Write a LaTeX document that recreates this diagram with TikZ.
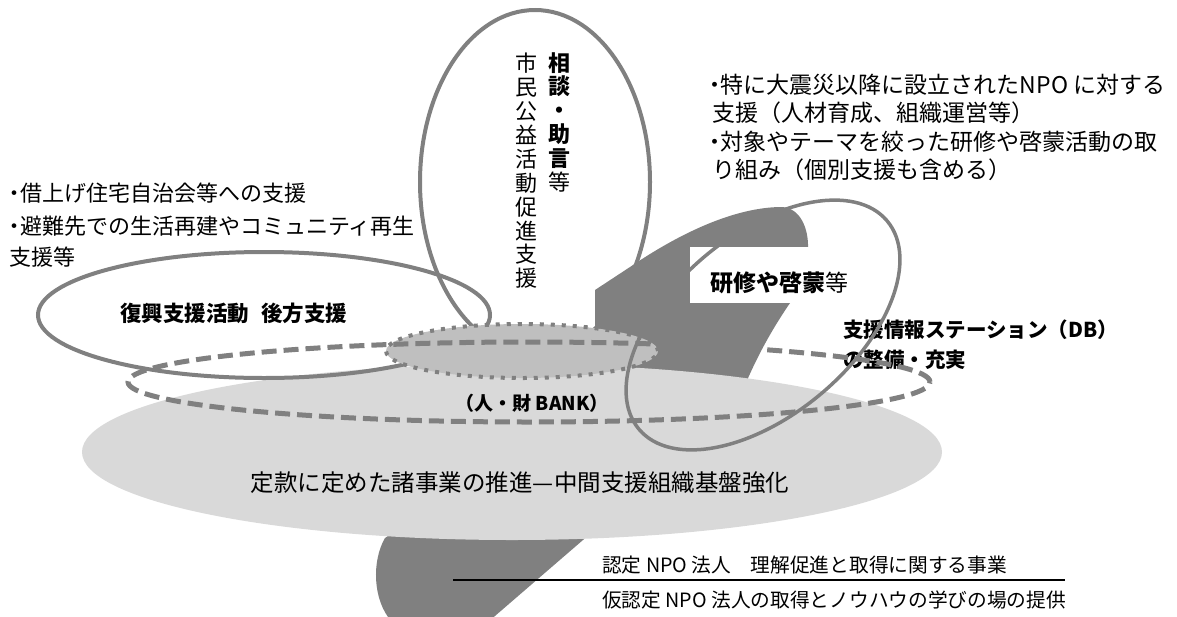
\documentclass[tikz,border=0pt]{standalone}
\usepackage{fontspec}
\setmainfont{Noto Sans CJK JP}
\definecolor{lineg}{HTML}{808080}
\definecolor{darkg}{HTML}{808080}
\definecolor{lightg}{HTML}{D9D9D9}
\definecolor{midg}{HTML}{BFBFBF}
\newcommand\hdot{\makebox[0.55em]{・}}
\begin{document}
\begin{tikzpicture}[x=1pt,y=-1pt,
  outl/.style={draw=lineg,line width=4pt},
  dashl/.style={draw=lineg,line width=5pt,dash pattern=on 15pt off 7pt},
  dotl/.style={draw=lineg,line width=4pt,dash pattern=on 4pt off 7pt},
  lbl/.style={inner sep=0pt,anchor=base west},
  fa/.style={font=\fontsize{22}{26}\selectfont},
  fb/.style={font=\fontsize{23}{26}\selectfont},
  fc/.style={font=\fontsize{20.5}{24}\selectfont\bfseries},
  fd/.style={font=\fontsize{19.7}{24}\selectfont},
  vcol/.style={anchor=north,align=center,inner sep=0pt,font=\fontsize{22}{23.9}\selectfont},
]
\useasboundingbox (0,0) rectangle (1177,616);
% dark background band
\fill[darkg] (595,330) -- (595,290) -- (630,267)
  .. controls (680,233) and (735,207) .. (782,207)
  .. controls (800,208) and (809,228) .. (808,250)
  -- (800,290) -- (790,303)
  .. controls (775,325) and (760,350) .. (745,385)
  -- (583,540) -- (488,622) -- (392,622)
  .. controls (372,600) and (372,560) .. (385,538)
  -- (560,420) -- cycle;
% base ellipse
\fill[lightg] (512,452) ellipse [x radius=430pt, y radius=88pt];
% reconstruction ellipse
\draw[outl] (264,315) ellipse [x radius=226pt, y radius=63pt];
% consultation ellipse
\draw[outl] (535,182) ellipse [x radius=115pt, y radius=172pt];
% bank ellipse
\draw[dotl, fill=midg] (522,351) ellipse [x radius=136pt, y radius=27pt];
% texts
\node[lbl,fa] (tl1) at (8,201) {\hdot 借上げ住宅自治会等への支援};
\node[lbl,fa] (tl2) at (8,234.5) {\hdot 避難先での生活再建やコミュニティ再生};
\node[lbl,fa] (tl3) at (9,265.5) {支援等};
\node[lbl,fb] (tr1) at (708,93.6) {\hdot 特に大震災以降に設立されたNPO に対する};
\node[lbl,fb] (tr2) at (712,121.6) {支援（人材育成、組織運営等）};
\node[lbl,fb] (tr3) at (708,150.6) {\hdot 対象やテーマを絞った研修や啓蒙活動の取};
\node[lbl,fb] (tr4) at (712,178.6) {り組み（個別支援も含める）};
\node[vcol] (col1) at (526,53) {市\\民\\公\\益\\活\\動\\促\\進\\支\\援};
\node[vcol] (col2) at (559,52) {{\bfseries 相}\\{\bfseries 談}\\{\bfseries ・}\\{\bfseries 助}\\{\bfseries 言}\\等};
\node[lbl,font=\fontsize{21.5}{26}\selectfont\bfseries] (fk) at (120,321.2) {復興支援活動\hspace{0.55em}後方支援};
\node[inner sep=0pt,anchor=base,font=\fontsize{19}{24}\selectfont\bfseries] (bank) at (532,410.2) {（人・財 BANK）};
\node[inner sep=0pt,anchor=base,font=\fontsize{23.5}{28}\selectfont] (main) at (520,491.9) {定款に定めた諸事業の推進—中間支援組織基盤強化};
\node[lbl,fc] (db1) at (843,337.8) {支援情報ステーション（DB）};
\node[lbl,fc] (db2) at (843,367.8) {の整備・充実};
\node[lbl,fd] (np1) at (602,572.5) {認定 NPO 法人　理解促進と取得に関する事業};
\node[lbl,fd] (np2) at (602,607.5) {仮認定 NPO 法人の取得とノウハウの学びの場の提供};
\coordinate (ulA) at (453,580);
\coordinate (ulB) at (1065,580);
\draw[line width=1.5pt] (ulA) -- (ulB);
% station ellipse
\draw[dashl] (529,382) ellipse [x radius=401pt, y radius=40pt];
% training box and ellipse
\node[fill=white, inner sep=0pt, minimum width=170pt, minimum height=56pt] (kbox) at (775,275) {};
\draw[outl, line width=3.5pt, rotate around={40:(763,325)}] (763,325) ellipse [x radius=162pt, y radius=90pt];
\node[lbl,font=\fontsize{23}{26}\selectfont] (kt) at (710,291.7) {{\bfseries 研修や啓蒙}等};
\end{tikzpicture}
\end{document}
